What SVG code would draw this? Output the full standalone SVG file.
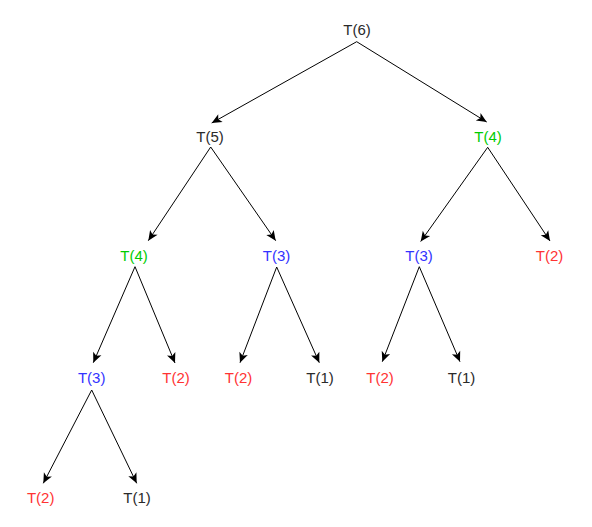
<svg xmlns="http://www.w3.org/2000/svg" width="592" height="527" viewBox="0 0 592 527">
<defs>
<style>
text{font-family:"Liberation Sans",Arial,sans-serif;font-size:14px;text-anchor:middle}
.k{fill:#2a2a2a}.g{fill:#00CC00}.b{fill:#3333FF}.r{fill:#FF3333}
.e{stroke:#000000;stroke-width:1;fill:none;marker-end:url(#ah)}
</style>
<marker id="ah" markerUnits="userSpaceOnUse" markerWidth="12" markerHeight="10" viewBox="-11 -5 12 10" refX="0" refY="0" orient="auto">
<path d="M-10,-4.5 L0,0 L-10,4.5 L-7.5,0 Z" fill="#000000"/>
</marker>
</defs>
<rect width="592" height="527" fill="#ffffff"/>
<g id="connectors">
<line class="e" x1="356.7" y1="41.7" x2="211.7" y2="123"/>
<line class="e" x1="356.7" y1="41.7" x2="486.7" y2="122"/>
<line class="e" x1="210.7" y1="147" x2="148.3" y2="240.7"/>
<line class="e" x1="210.7" y1="147" x2="275.7" y2="240.7"/>
<line class="e" x1="487.7" y1="147.3" x2="420.7" y2="241.5"/>
<line class="e" x1="487.7" y1="147.3" x2="550" y2="241"/>
<line class="e" x1="135" y1="266.7" x2="93.3" y2="362.7"/>
<line class="e" x1="135" y1="266.7" x2="175" y2="363"/>
<line class="e" x1="276.7" y1="267" x2="240" y2="362.7"/>
<line class="e" x1="276.7" y1="267" x2="319.3" y2="362.7"/>
<line class="e" x1="419.3" y1="266.7" x2="382.3" y2="361.7"/>
<line class="e" x1="419.3" y1="266.7" x2="460" y2="361.7"/>
<line class="e" x1="91.7" y1="390" x2="43.3" y2="483.3"/>
<line class="e" x1="91.7" y1="390" x2="136.7" y2="483.3"/>
</g>
<g id="n6"><text class="k" x="357" y="35" textLength="27.5" lengthAdjust="spacingAndGlyphs">T(6)</text></g>
<g id="n5"><text class="k" x="210" y="141.9" textLength="27.5" lengthAdjust="spacingAndGlyphs">T(5)</text></g>
<g id="n4r"><text class="g" x="488" y="141.9" textLength="27.5" lengthAdjust="spacingAndGlyphs">T(4)</text></g>
<g id="n4l"><text class="g" x="134" y="260.9" textLength="27.5" lengthAdjust="spacingAndGlyphs">T(4)</text></g>
<g id="n3m"><text class="b" x="276.5" y="260.9" textLength="27.5" lengthAdjust="spacingAndGlyphs">T(3)</text></g>
<g id="n3r"><text class="b" x="419" y="260.9" textLength="27.5" lengthAdjust="spacingAndGlyphs">T(3)</text></g>
<g id="n2rr"><text class="r" x="549.5" y="260.9" textLength="27.5" lengthAdjust="spacingAndGlyphs">T(2)</text></g>
<g id="n3ll"><text class="b" x="91.7" y="382.9" textLength="27.5" lengthAdjust="spacingAndGlyphs">T(3)</text></g>
<g id="n2a"><text class="r" x="176" y="382.9" textLength="27.5" lengthAdjust="spacingAndGlyphs">T(2)</text></g>
<g id="n2b"><text class="r" x="238.5" y="382.9" textLength="27.5" lengthAdjust="spacingAndGlyphs">T(2)</text></g>
<g id="n1a"><text class="k" x="320" y="382.9" textLength="27.5" lengthAdjust="spacingAndGlyphs">T(1)</text></g>
<g id="n2c"><text class="r" x="380" y="382.9" textLength="27.5" lengthAdjust="spacingAndGlyphs">T(2)</text></g>
<g id="n1b"><text class="k" x="461.5" y="382.9" textLength="27.5" lengthAdjust="spacingAndGlyphs">T(1)</text></g>
<g id="n2d"><text class="r" x="40.7" y="502.9" textLength="27.5" lengthAdjust="spacingAndGlyphs">T(2)</text></g>
<g id="n1c"><text class="k" x="137" y="502.9" textLength="27.5" lengthAdjust="spacingAndGlyphs">T(1)</text></g>
</svg>
